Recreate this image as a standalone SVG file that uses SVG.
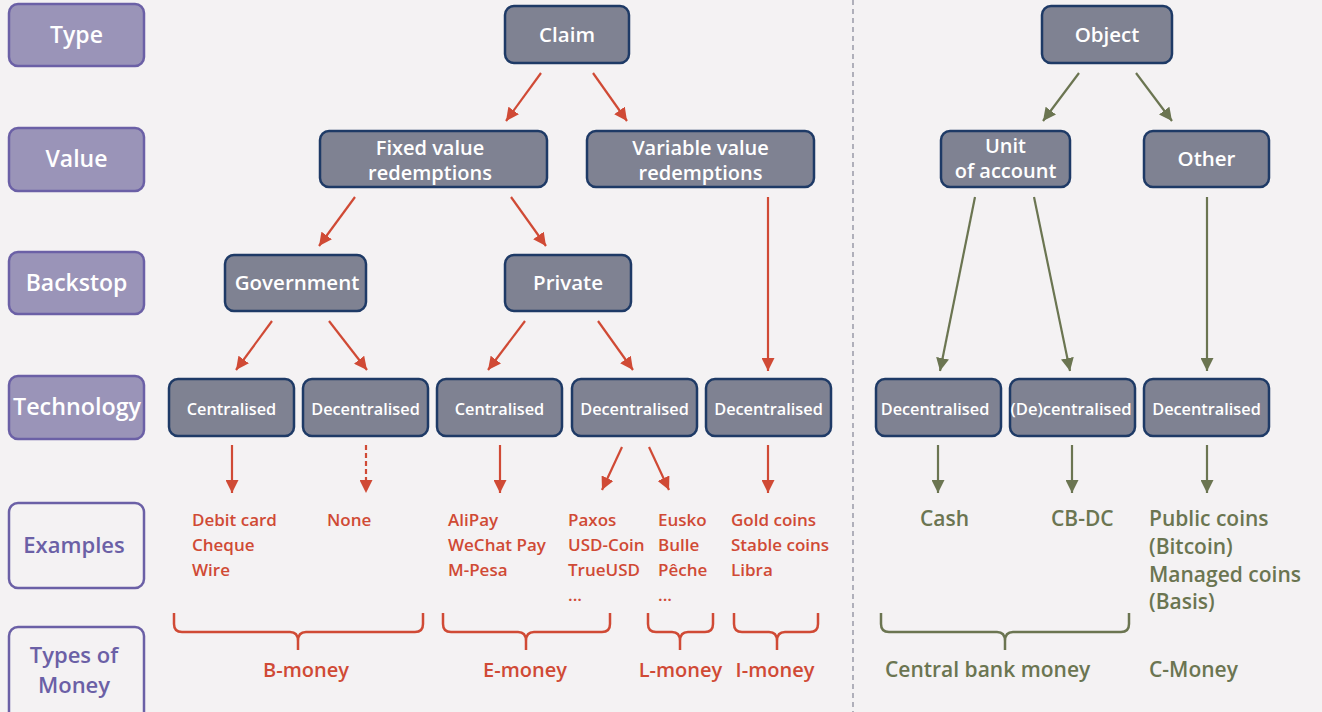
<svg xmlns="http://www.w3.org/2000/svg" width="1322" height="712" viewBox="0 0 1322 712">
<style>
.bg{fill:#f4f2f3}
.lab{fill:#9a94b8;stroke:#6b60a6;stroke-width:2.5}
.lab2{fill:#f4f2f3;stroke:#6b60a6;stroke-width:2.5}
.node{fill:#7f8292;stroke:#1e3a66;stroke-width:2.5}
text{font-family:"Open Sans","Liberation Sans",sans-serif;font-weight:600}
.lt{fill:#ffffff;font-size:23px;text-anchor:middle}
.lt2{fill:#6b60a6;font-size:22px;text-anchor:middle}
.nt{fill:#ffffff;font-size:20.5px;text-anchor:middle}
.nt2{fill:#ffffff;font-size:20px;text-anchor:middle}
.tt{fill:#ffffff;font-size:16.3px;text-anchor:middle}
.rx{fill:#d04a35;font-size:17px}
.gx{fill:#6b7551;font-size:21px}
.rm{fill:#d04a35;font-size:20px;text-anchor:middle}
.ra{stroke:#d04a35;stroke-width:2.2;fill:none;marker-end:url(#ar)}
.ga{stroke:#6b7551;stroke-width:2.2;fill:none;marker-end:url(#ag)}
.rb{stroke:#d04a35;stroke-width:2.5;fill:none}
.gb{stroke:#6b7551;stroke-width:2.5;fill:none}
</style>
<defs>
<marker id="ar" markerUnits="userSpaceOnUse" markerWidth="14" markerHeight="13" refX="13" refY="6.5" orient="auto"><path d="M0,0 L13,6.5 L0,13 z" fill="#d04a35"/></marker>
<marker id="ag" markerUnits="userSpaceOnUse" markerWidth="14" markerHeight="13" refX="13" refY="6.5" orient="auto"><path d="M0,0 L13,6.5 L0,13 z" fill="#6b7551"/></marker>
</defs>
<rect class="bg" x="0" y="0" width="1322" height="712"/>
<line x1="853" y1="0" x2="853" y2="712" stroke="#8c8c9c" stroke-width="1.3" stroke-dasharray="5 4"/>

<g id="row-labels">
<g id="lab-type"><rect class="lab" x="9" y="4" width="135" height="62" rx="9"/><text class="lt" x="76.5" y="43">Type</text></g>
<g id="lab-value"><rect class="lab" x="9" y="128" width="135" height="63" rx="9"/><text class="lt" x="76.5" y="167">Value</text></g>
<g id="lab-backstop"><rect class="lab" x="9" y="252" width="135" height="62" rx="9"/><text class="lt" x="76.5" y="291">Backstop</text></g>
<g id="lab-tech"><rect class="lab" x="9" y="376" width="135" height="63" rx="9"/><text class="lt" x="77" y="415" textLength="128" lengthAdjust="spacingAndGlyphs">Technology</text></g>
<g id="lab-examples"><rect class="lab2" x="9" y="503" width="135" height="85" rx="9"/><text class="lt2" x="74" y="553">Examples</text></g>
<g id="lab-types"><rect class="lab2" x="9" y="627" width="135" height="95" rx="9"/><text class="lt2" x="74" y="663">Types of</text><text class="lt2" x="74" y="693">Money</text></g>
</g>

<g id="connectors">
<line class="ra" x1="541" y1="73" x2="506" y2="121"/>
<line class="ra" x1="593" y1="73" x2="627" y2="121"/>
<line class="ra" x1="355" y1="197" x2="319" y2="246"/>
<line class="ra" x1="511" y1="197" x2="546" y2="246"/>
<line class="ra" x1="768" y1="197" x2="768" y2="371"/>
<line class="ra" x1="272" y1="321" x2="236" y2="370"/>
<line class="ra" x1="329" y1="321" x2="367" y2="370"/>
<line class="ra" x1="525" y1="321" x2="488" y2="370"/>
<line class="ra" x1="598" y1="321" x2="633" y2="370"/>
<line class="ga" x1="1079" y1="73" x2="1043" y2="121"/>
<line class="ga" x1="1136" y1="73" x2="1172" y2="121"/>
<line class="ga" x1="975" y1="197" x2="940" y2="371"/>
<line class="ga" x1="1034" y1="197" x2="1070" y2="371"/>
<line class="ga" x1="1207" y1="197" x2="1207" y2="371"/>
<line class="ra" x1="232" y1="445" x2="232" y2="493"/>
<line class="ra" x1="366" y1="445" x2="366" y2="493" stroke-dasharray="5 3"/>
<line class="ra" x1="500" y1="445" x2="500" y2="493"/>
<line class="ra" x1="622" y1="447" x2="602" y2="490"/>
<line class="ra" x1="649" y1="447" x2="669" y2="490"/>
<line class="ra" x1="768" y1="445" x2="768" y2="493"/>
<line class="ga" x1="938" y1="445" x2="938" y2="493"/>
<line class="ga" x1="1072" y1="445" x2="1072" y2="493"/>
<line class="ga" x1="1207" y1="445" x2="1207" y2="493"/>
</g>

<g id="n-claim"><rect class="node" x="505" y="6" width="124" height="57" rx="9"/><text class="nt" x="567" y="42">Claim</text></g>
<g id="n-object"><rect class="node" x="1042" y="6" width="130" height="57" rx="9"/><text class="nt" x="1107" y="42">Object</text></g>
<g id="n-fixed"><rect class="node" x="320" y="131" width="227" height="56" rx="9"/><text class="nt2" x="430" y="155">Fixed value</text><text class="nt2" x="430" y="180">redemptions</text></g>
<g id="n-variable"><rect class="node" x="587" y="131" width="227" height="56" rx="9"/><text class="nt2" x="700.5" y="155">Variable value</text><text class="nt2" x="700.5" y="180">redemptions</text></g>
<g id="n-unit"><rect class="node" x="941" y="131" width="129" height="56" rx="9"/><text class="nt2" x="1005.5" y="153">Unit</text><text class="nt2" x="1005.5" y="178">of account</text></g>
<g id="n-other"><rect class="node" x="1144" y="131" width="125" height="56" rx="9"/><text class="nt" x="1206.5" y="166">Other</text></g>
<g id="n-government"><rect class="node" x="225" y="255" width="141" height="56" rx="9"/><text class="nt" x="297" y="290">Government</text></g>
<g id="n-private"><rect class="node" x="505" y="255" width="126" height="56" rx="9"/><text class="nt" x="568" y="290">Private</text></g>

<g id="t-1"><rect class="node" x="169" y="379" width="125" height="57" rx="9"/><text class="tt" x="231.5" y="415">Centralised</text></g>
<g id="t-2"><rect class="node" x="303" y="379" width="125" height="57" rx="9"/><text class="tt" x="365.5" y="415">Decentralised</text></g>
<g id="t-3"><rect class="node" x="437" y="379" width="125" height="57" rx="9"/><text class="tt" x="499.5" y="415">Centralised</text></g>
<g id="t-4"><rect class="node" x="572" y="379" width="125" height="57" rx="9"/><text class="tt" x="634.5" y="415">Decentralised</text></g>
<g id="t-5"><rect class="node" x="706" y="379" width="125" height="57" rx="9"/><text class="tt" x="768.5" y="415">Decentralised</text></g>
<g id="t-6"><rect class="node" x="876" y="379" width="125" height="57" rx="9"/><text class="tt" x="935" y="415">Decentralised</text></g>
<g id="t-7"><rect class="node" x="1010" y="379" width="125" height="57" rx="9"/><text class="tt" x="1071" y="415" textLength="121" lengthAdjust="spacingAndGlyphs">(De)centralised</text></g>
<g id="t-8"><rect class="node" x="1144" y="379" width="125" height="57" rx="9"/><text class="tt" x="1206.5" y="415">Decentralised</text></g>

<g id="examples">
<text class="rx" x="192" y="526">Debit card</text>
<text class="rx" x="192" y="551">Cheque</text>
<text class="rx" x="192" y="576">Wire</text>
<text class="rx" x="327" y="526">None</text>
<text class="rx" x="448" y="526">AliPay</text>
<text class="rx" x="448" y="551">WeChat Pay</text>
<text class="rx" x="448" y="576">M-Pesa</text>
<text class="rx" x="568" y="526">Paxos</text>
<text class="rx" x="568" y="551">USD-Coin</text>
<text class="rx" x="568" y="576">TrueUSD</text>
<text class="rx" x="568" y="601">...</text>
<text class="rx" x="658" y="526">Eusko</text>
<text class="rx" x="658" y="551">Bulle</text>
<text class="rx" x="658" y="576">Pêche</text>
<text class="rx" x="658" y="601">...</text>
<text class="rx" x="731" y="526">Gold coins</text>
<text class="rx" x="731" y="551">Stable coins</text>
<text class="rx" x="731" y="576">Libra</text>
<text class="gx" x="920" y="526">Cash</text>
<text class="gx" x="1051" y="526">CB-DC</text>
<text class="gx" x="1149" y="526">Public coins</text>
<text class="gx" x="1149" y="554">(Bitcoin)</text>
<text class="gx" x="1149" y="582">Managed coins</text>
<text class="gx" x="1149" y="609">(Basis)</text>
</g>

<g id="braces">
<path class="rb" d="M174,613 V624 Q174,632 182,632 H290 Q298,632 298,641 Q298,632 306,632 H415 Q423,632 423,624 V613 M298,641 V650"/>
<path class="rb" d="M443,613 V624 Q443,632 451,632 H518 Q526,632 526,641 Q526,632 534,632 H602 Q610,632 610,624 V613 M526,641 V650"/>
<path class="rb" d="M648,613 V624 Q648,632 656,632 H672 Q680,632 680,641 Q680,632 688,632 H705 Q713,632 713,624 V613 M680,641 V650"/>
<path class="rb" d="M734,613 V624 Q734,632 742,632 H769 Q777,632 777,641 Q777,632 785,632 H810 Q818,632 818,624 V613 M777,641 V650"/>
<path class="gb" d="M881,613 V624 Q881,632 889,632 H997 Q1005,632 1005,641 Q1005,632 1013,632 H1121 Q1129,632 1129,624 V613 M1005,641 V650"/>
</g>

<g id="money-types">
<text class="rm" x="306" y="677">B-money</text>
<text class="rm" x="525" y="677">E-money</text>
<text class="rm" x="680.5" y="677">L-money</text>
<text class="rm" x="775" y="677">I-money</text>
<text class="gx" x="885" y="677" font-size="21.5">Central bank money</text>
<text class="gx" x="1149" y="677" font-size="21.5">C-Money</text>
</g>
</svg>
